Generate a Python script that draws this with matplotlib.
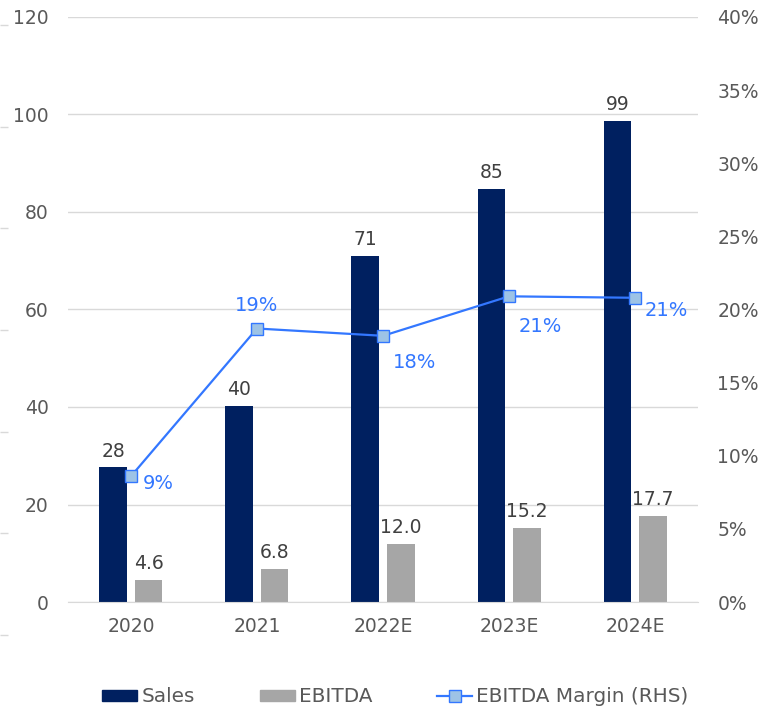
import matplotlib
matplotlib.use('Agg')
import matplotlib.pyplot as plt
import numpy as np
from matplotlib.lines import Line2D
from matplotlib.patches import Patch

# values
years = ['2020', '2021', '2022E', '2023E', '2024E']
sales = [27.6, 40.2, 70.9, 84.7, 98.6]
ebitda = [4.6, 6.8, 12.0, 15.2, 17.7]
margin = [8.6, 18.7, 18.2, 20.9, 20.8]  # % (RHS)

navy = '#002060'
grey = '#A6A6A6'
blue = '#3377FF'
txt = '#595959'
grid = '#D9D9D9'

plt.rcParams['font.family'] = 'sans-serif'
plt.rcParams['font.sans-serif'] = ['DejaVu Sans']
plt.rcParams['font.size'] = 13.5

fig = plt.figure(figsize=(7.69, 7.10), dpi=100)
ax = fig.add_axes([0.0884, 0.1521, 0.8193, 0.824])
ax2 = ax.twinx()

x = np.arange(len(years))
w = 0.222
off = 0.139
b1 = ax.bar(x - off, sales, w, color=navy, zorder=2)
b2 = ax.bar(x + off, ebitda, w, color=grey, zorder=2)

for r, v in zip(b1, sales):
    ax.annotate(f'{v:.0f}', (r.get_x() + r.get_width() / 2, v), xytext=(0, 5),
                textcoords='offset points', ha='center', va='bottom', color='#404040')
for r, v in zip(b2, ebitda):
    ax.annotate(f'{v:.1f}', (r.get_x() + r.get_width() / 2, v), xytext=(0, 5),
                textcoords='offset points', ha='center', va='bottom', color='#404040')

ax.set_ylim(0, 120)
ax.set_yticks(range(0, 121, 20))
ax.set_xlim(-0.5, len(years) - 0.5)
ax.set_xticks(x)
ax.set_xticklabels(years)
ax.grid(axis='y', color=grid, linewidth=1, zorder=0)
ax.set_axisbelow(True)
ax.tick_params(axis='y', length=0, pad=14, colors=txt)
ax.tick_params(axis='x', length=0, pad=11, colors=txt)
for s in ['top', 'left', 'right']:
    ax.spines[s].set_visible(False)
ax.spines['bottom'].set_color(grid)

ax2.plot(x, margin, color=blue, linewidth=1.6, marker='s', markersize=8,
         markerfacecolor='#9DC3E6', markeredgecolor=blue, markeredgewidth=1, zorder=3)
ax2.set_ylim(0, 40)
ax2.set_yticks(range(0, 41, 5))
ax2.set_yticklabels([f'{t}%' for t in range(0, 41, 5)])
ax2.tick_params(axis='y', length=0, pad=14, colors=txt)
for s in ax2.spines.values():
    s.set_visible(False)

# label offsets in pixels, as placed in the original
lbl_off = [(27, -7), (0, 23), (32, -27), (31, -30), (31, -13)]
for xi, m, o in zip(x, margin, lbl_off):
    ax2.annotate(f'{m:.0f}%', (xi, m), xytext=o, textcoords='offset pixels',
                 ha='center', va='center', color=blue, fontsize=14)

# faint tick marks down the left edge
axl = fig.add_axes([0, (710 - 635) / 710, 0.012, (635 - 25) / 710])
axl.set_ylim(0, 6)
axl.set_yticks(range(7))
axl.set_yticklabels([])
axl.set_xticks([])
axl.tick_params(axis='y', direction='in', length=5.8, width=1, color=grid)
for s in axl.spines.values():
    s.set_visible(False)
axl.patch.set_alpha(0)

handles = [Patch(color=navy, label='Sales'),
           Patch(color=grey, label='EBITDA'),
           Line2D([], [], color=blue, linewidth=1.6, marker='s', markersize=8,
                  markerfacecolor='#9DC3E6', markeredgecolor=blue, label='EBITDA Margin (RHS)')]
leg = fig.legend(handles=handles, loc='center', bbox_to_anchor=(0.514, 1 - 697 / 710), ncol=3,
                 frameon=False, fontsize=14.4, handlelength=1.75, handleheight=0.5,
                 handletextpad=0.2, columnspacing=3.25)
for t in leg.get_texts():
    t.set_color(txt)

fig.savefig('out.png', dpi=100)
